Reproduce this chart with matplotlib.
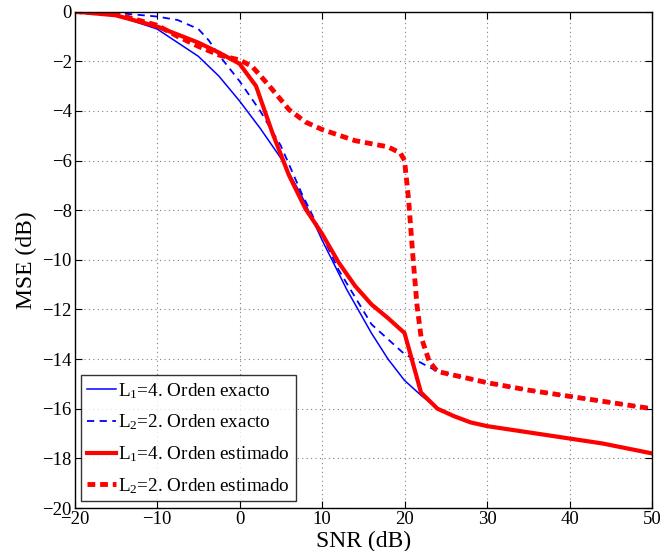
import matplotlib.pyplot as plt
import numpy as np

plt.rcParams['font.family'] = ['Liberation Serif', 'DejaVu Serif']
plt.rcParams['mathtext.fontset'] = 'custom'
plt.rcParams['mathtext.rm'] = 'Liberation Serif'
plt.rcParams['mathtext.it'] = 'Liberation Serif:italic'

# L1=4, orden exacto
snr_l1_ex = [-20, -15, -10, -5, -2.5, 0, 2.5, 5, 7.5, 10, 13, 16, 18, 20, 22, 24, 26, 28, 30, 35, 40, 44, 50]
mse_l1_ex = [0, -0.15, -0.7, -1.8, -2.6, -3.6, -4.7, -5.9, -7.4, -9.2, -11.2, -12.96, -14.0, -14.86, -15.46, -16.0,
             -16.3, -16.55, -16.7, -16.95, -17.2, -17.4, -17.8]

# L2=2, orden exacto
snr_l2_ex = [-20, -15, -10, -7.5, -5, -3.75, -2.5, 0, 2.5, 5, 7.5, 10, 12, 16, 20, 24, 30, 35, 40, 45, 50]
mse_l2_ex = [0, -0.05, -0.2, -0.34, -0.7, -1.15, -1.75, -2.8, -4.0, -5.4, -7.3, -9.0, -10.4, -12.6, -13.8, -14.5,
             -14.95, -15.25, -15.5, -15.75, -16.0]

# L1=4, orden estimado
snr_l1_es = [-20, -15, -10, -5, -2.5, 0, 2, 4, 6, 8, 10, 12, 14, 16, 18, 20, 22, 24, 26, 28, 30, 35, 40, 44, 50]
mse_l1_es = [0, -0.15, -0.6, -1.25, -1.65, -2.1, -3.0, -4.9, -6.6, -7.95, -8.95, -10.1, -11.05, -11.8, -12.35,
             -12.95, -15.35, -16.0, -16.3, -16.55, -16.7, -16.95, -17.2, -17.4, -17.8]

# L2=2, orden estimado
snr_l2_es = [-20, -15, -10, -7.5, -5, -2.5, 0, 1.5, 3.5, 6, 8, 10, 14, 18, 19.5, 20, 20.5, 21, 21.5, 22, 23, 24,
             30, 35, 40, 45, 50]
mse_l2_es = [0, -0.1, -0.55, -1.0, -1.4, -1.75, -1.95, -2.2, -2.95, -3.95, -4.45, -4.75, -5.2, -5.45, -5.7, -6.0,
             -7.6, -9.8, -11.8, -13.1, -14.1, -14.5, -14.95, -15.25, -15.5, -15.75, -16.0]

fig = plt.figure(figsize=(6.64, 5.51), dpi=100)
ax = fig.add_axes([0.1122, 0.078, 0.8698, 0.901])

ax.plot(snr_l1_ex, mse_l1_ex, color='#0000ff', lw=1.1, label='L$_1$=4. Orden exacto')
ax.plot(snr_l2_ex, mse_l2_ex, color='#0000ff', lw=1.3, ls=(0, (4, 3)), label='L$_2$=2. Orden exacto')
ax.plot(snr_l1_es, mse_l1_es, color='#ff0000', lw=3.0, label='L$_1$=4. Orden estimado')
ax.plot(snr_l2_es, mse_l2_es, color='#ff0000', lw=3.5, ls=(0, (1.6, 1.0)), label='L$_2$=2. Orden estimado')

ax.set_xlim(-20, 50)
ax.set_ylim(-20, 0)
ax.set_xticks(np.arange(-20, 51, 10))
ax.set_yticks(np.arange(-20, 1, 2))
ax.grid(True, ls=(0, (1, 3)), color='#808080', lw=0.8)
ax.tick_params(direction='in', top=True, right=True, labelsize=13.5, length=5, pad=2)
for s in ax.spines.values():
    s.set_linewidth(1.0)

ax.set_xlabel('SNR (dB)', fontsize=17, labelpad=2)
ax.set_ylabel('MSE (dB)', fontsize=17, labelpad=4)

leg = ax.legend(loc='lower left', fontsize=13.8, frameon=True, fancybox=False, edgecolor='black',
                handlelength=1.5, handletextpad=0.12, borderaxespad=0.35, labelspacing=0.62,
                borderpad=0.3)
leg.get_frame().set_linewidth(1.0)

fig.savefig('out.png', dpi=100)
